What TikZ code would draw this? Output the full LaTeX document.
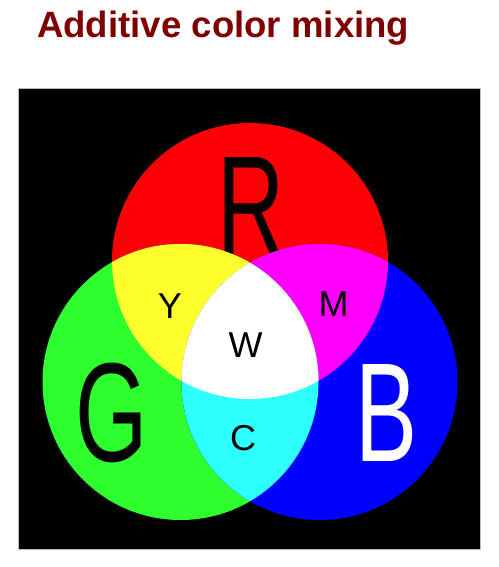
\documentclass[tikz,border=0pt]{standalone}
\usepackage{fontspec}
\setmainfont{Liberation Sans}
\usetikzlibrary{positioning}
\definecolor{Title_Red}{HTML}{7F0000}
\definecolor{Mix_Red}{HTML}{FC0006}
\definecolor{Mix_Green}{HTML}{2EFF2E}
\definecolor{Mix_Blue}{HTML}{0000FF}
\definecolor{Mix_Yellow}{HTML}{FFFF2E}
\definecolor{Mix_Magenta}{HTML}{FF00FF}
\definecolor{Mix_Cyan}{HTML}{2EFFFF}
\tikzset{
  title/.style={anchor=base west, inner sep=0pt, text=Title_Red,
    font=\bfseries\fontsize{36.6}{40}\selectfont},
  bigletter/.style={anchor=base, inner sep=0pt, xscale=0.66,
    font=\fontsize{141}{141}\selectfont},
  smallletter/.style={anchor=base, inner sep=0pt,
    font=\fontsize{36}{36}\selectfont},
  disc/.style={radius=138pt}
}

\begin{document}
\begin{tikzpicture}[x=1pt, y=-1pt]
\useasboundingbox (0,0) rectangle (498,567);
\node[title] (title) at (37,37.5) {Additive color mixing};
% --- black panel ---
\fill[black] (18.7,88.3) rectangle (480,549);
\draw[gray!55, line width=0.6pt] (18.7,88.3) rectangle (480,549);
% --- centres of the three lights ---
\coordinate (cr) at (250,261);
\coordinate (cg) at (180.5,382);
\coordinate (cb) at (319.5,382);
% --- primaries ---
\fill[Mix_Red] (cr) circle[disc];
\fill[Mix_Green] (cg) circle[disc];
\fill[Mix_Blue] (cb) circle[disc];
\node[bigletter, text=black] (R) at (251.5,254) {R};
% --- secondaries ---
\begin{scope}
  \clip (cr) circle[disc];
  \fill[Mix_Yellow] (cg) circle[disc];
  \fill[Mix_Magenta] (cb) circle[disc];
\end{scope}
\begin{scope}
  \clip (cg) circle[disc];
  \fill[Mix_Cyan] (cb) circle[disc];
\end{scope}
% --- white centre ---
\begin{scope}
  \clip (cr) circle[disc];
  \clip (cg) circle[disc];
  \fill[white] (cb) circle[disc];
\end{scope}
% --- labels ---
\node[bigletter, text=black] (G) at (112,461) {G};
\node[bigletter, text=white] (B) at (387,461) {B};
\node[smallletter] (Y) at (170,318) {Y};
\node[smallletter] (M) at (333.5,316) {M};
\node[smallletter] (W) at (245.5,357) {W};
\node[smallletter] (C) at (243,450.5) {C};
\end{tikzpicture}
\end{document}
